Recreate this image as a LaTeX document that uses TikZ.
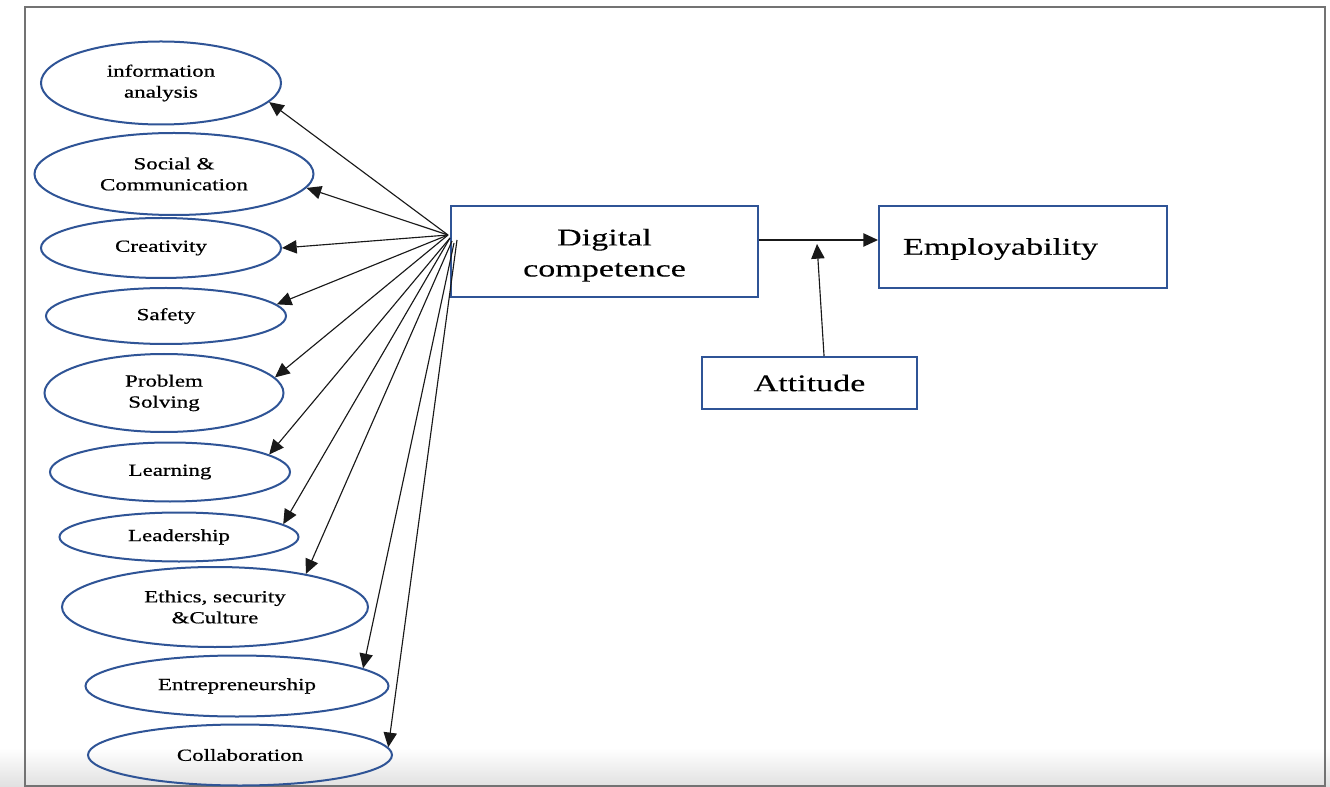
\documentclass[tikz,border=0pt]{standalone}
\usepackage{fontspec}
\setmainfont{Liberation Serif}
\newfontfamily\ellfont{Liberation Serif}[FakeStretch=1.35,FakeBold=0.6]
\newfontfamily\boxfont{Liberation Serif}[FakeStretch=1.42,FakeBold=0.2]
\usetikzlibrary{shapes.geometric,arrows.meta,calc}
\definecolor{edgeblue}{RGB}{47,84,150}
\begin{document}
\begin{tikzpicture}[x=0.75pt,y=-0.75pt,
  ell/.style={ellipse, draw=edgeblue, line width=1.5pt, inner sep=0pt, align=center,
    font=\ellfont\fontsize{12.75}{15.75}\selectfont},
  es/.style 2 args={minimum width=#1*0.75pt, minimum height=#2*0.75pt},
  bx/.style={draw=edgeblue, line width=1.5pt, inner sep=0pt, align=center,
    font=\boxfont\fontsize{18}{22.5}\selectfont},
  arr/.style={line width=0.85pt, draw=black!90, -{Triangle[length=11pt,width=10pt]}}]
\fill[white] (0,0) rectangle (1330,787);
\useasboundingbox (0,0) rectangle (1330,787);
\shade[top color=white, bottom color=black!12] (0,748) rectangle (1330,787);
\draw[line width=1.5pt, color=black!55] (25,7) rectangle (1325,786);

\node[ell, es={240}{83}] (info) at (161,83) {information\\analysis};
\node[ell, es={279}{82}] (soc) at (174,174) {Social \&\\Communication};
\node[ell, es={240}{60}] (cre) at (161,248) {Creativity};
\node[ell, es={240}{56}] (saf) at (166,316) {Safety};
\node[ell, es={239}{78}] (prob) at (164,393) {Problem\\Solving};
\node[ell, es={240}{59}] (learn) at (170,472) {Learning};
\node[ell, es={239}{49}] (lead) at (179,537) {Leadership};
\node[ell, es={306}{80}] (eth) at (215,607) {Ethics, security\\\&Culture};
\node[ell, es={303}{61}] (ent) at (237,686) {Entrepreneurship};
\node[ell, es={304}{61}] (col) at (240,755) {Collaboration};

\node[bx, minimum width=307*0.75pt, minimum height=91*0.75pt] (dig) at (604.5,251.5) {\raisebox{-2.6pt}[\height][\depth]{\begin{tabular}{@{}c@{}}Digital\\[0.8pt]competence\end{tabular}}};
\node[bx, minimum width=288*0.75pt, minimum height=82*0.75pt, text width=240*0.75pt, align=left] (emp) at (1023,247) {\raisebox{-1.5pt}[\height][\depth]{Employability}};
\node[bx, minimum width=215*0.75pt, minimum height=52*0.75pt] (att) at (809.5,383) {Attitude};

\coordinate (fa) at (448,235);
\coordinate (fb) at (450,238);
\coordinate (fc) at (452,241);
\coordinate (fd) at (454,243);
\coordinate (fe) at (457,240);
\draw[arr] (fa) -- (info.-10);
\draw[arr] (fa) -- (soc.-6);
\draw[arr] (fa) -- (cre.0);
\draw[arr] (fa) -- (saf.6);
\draw[arr] (fa) -- (prob.8);
\draw[arr] (fb) -- (learn.10);
\draw[arr] (fb) -- (lead.7);
\draw[arr] (fc) -- (eth.20);
\draw[arr] (fd) -- (ent.8);
\draw[arr] (fe) -- (col.3);

\coordinate (ay) at (0,240);
\draw[arr, line width=1pt] (dig.east |- ay) -- (emp.west |- ay);
\coordinate (atip) at (817,244);
\draw[arr] ([xshift=10.9pt]att.north) -- (atip);
\end{tikzpicture}
\end{document}
